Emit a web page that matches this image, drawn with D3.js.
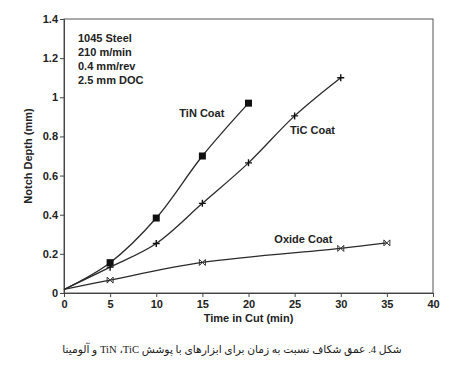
<!DOCTYPE html>
<html>
<head>
<meta charset="utf-8">
<script src="https://cdn.jsdelivr.net/npm/d3@7"></script>
<style>
  body { margin: 0; background: #fff; }
  text { font-family: "Liberation Sans", Arial, sans-serif; fill: #222; }
</style>
</head>
<body>
<script>
const xTicks = [0, 5, 10, 15, 20, 25, 30, 35, 40];
const yTicks = [0, 0.2, 0.4, 0.6, 0.8, 1, 1.2, 1.4];

const tinTime = [0, 5, 10, 15, 20];
const tinDepth = [0.018, 0.155, 0.383, 0.70, 0.97];

const ticTime = [0, 5, 10, 15, 20, 25, 30];
const ticDepth = [0.018, 0.132, 0.253, 0.458, 0.665, 0.905, 1.10];

const oxideTime = [0, 5, 15, 30, 35];
const oxideDepth = [0.018, 0.066, 0.156, 0.228, 0.256];

const conditions = ['1045 Steel', '210 m/min', '0.4 mm/rev', '2.5 mm DOC'];
const caption = 'شکل 4. عمق شکاف نسبت به زمان برای ابزارهای با پوشش TiC\u200F، TiN و آلومینا';

const margin = { top: 19, right: 17, bottom: 76, left: 64 },
      width = 450 - margin.left - margin.right,
      height = 369 - margin.top - margin.bottom;

const x = d3.scaleLinear().domain([0, 40]).range([0, width]);
const y = d3.scaleLinear().domain([0, 1.4]).range([height, 0]);

const svg = d3.select('body').append('svg')
    .attr('width', 450).attr('height', 369);
const g = svg.append('g').attr('transform', `translate(${margin.left},${margin.top})`);

// frame
g.append('rect').attr('width', width).attr('height', height)
    .attr('fill', 'none').attr('stroke', '#555').attr('stroke-width', 1);

const xAxis = d3.axisBottom(x).tickValues(xTicks).tickSize(4).tickPadding(3).tickFormat(d3.format('d'));
const yAxis = d3.axisLeft(y).tickValues(yTicks).tickSize(4).tickPadding(2).tickFormat(d => d === 0 || d === 1 ? d : d3.format('.1f')(d));

const gx = g.append('g').attr('transform', `translate(0,${height})`).call(xAxis);
const gy = g.append('g').call(yAxis);
[gx, gy].forEach(a => {
    a.select('.domain').attr('stroke', '#444');
    a.selectAll('.tick line').attr('stroke', '#444');
    a.selectAll('.tick text').attr('font-size', 11).attr('font-weight', 'bold')
        .attr('fill', '#222').style('font-family', '"Liberation Sans", Arial, sans-serif');
});

const line = d3.line().x(d => x(d[0])).y(d => y(d[1])).curve(d3.curveCatmullRom.alpha(0.5));
const series = [
    { t: tinTime, v: tinDepth, mark: 'square' },
    { t: ticTime, v: ticDepth, mark: 'plus' },
    { t: oxideTime, v: oxideDepth, mark: 'cross' }
];

series.forEach(s => {
    const pts = s.t.map((t, i) => [t, s.v[i]]);
    g.append('path').attr('d', line(pts)).attr('fill', 'none')
        .attr('stroke', '#2a2a2a').attr('stroke-width', 1.3);
    pts.slice(1).forEach(p => {
        const cx = x(p[0]), cy = y(p[1]);
        if (s.mark === 'square') {
            g.append('rect').attr('x', cx - 3.5).attr('y', cy - 3.5)
                .attr('width', 7).attr('height', 7).attr('fill', '#111');
        } else if (s.mark === 'plus') {
            g.append('path').attr('d', `M${cx - 3.5},${cy}H${cx + 3.5}M${cx},${cy - 3.5}V${cy + 3.5}`)
                .attr('stroke', '#111').attr('stroke-width', 1.4);
        } else {
            g.append('path').attr('d', `M${cx - 3},${cy - 3}L${cx + 3},${cy + 3}M${cx - 3},${cy + 3}L${cx + 3},${cy - 3}M${cx - 3},${cy - 3}V${cy + 3}M${cx + 3},${cy - 3}V${cy + 3}`)
                .attr('stroke', '#333').attr('stroke-width', 1);
        }
    });
});

// conditions box text
g.selectAll('.cond').data(conditions).enter().append('text')
    .attr('x', 14).attr('y', (d, i) => 23 + i * 14)
    .attr('font-size', 11).attr('font-weight', 'bold').text(d => d);

// series labels
const labels = [
    { text: 'TiN Coat', t: 12.5, v: 0.90 },
    { text: 'TiC Coat', t: 24.5, v: 0.81 },
    { text: 'Oxide Coat', t: 22.8, v: 0.255 }
];
g.selectAll('.lab').data(labels).enter().append('text')
    .attr('x', d => x(d.t)).attr('y', d => y(d.v))
    .attr('font-size', 11).attr('font-weight', 'bold').text(d => d.text);

// axis titles
g.append('text').attr('x', x(20)).attr('y', height + 29)
    .attr('text-anchor', 'middle').attr('font-size', 11).attr('font-weight', 'bold')
    .text('Time in Cut (min)');
g.append('text').attr('transform', `translate(-32,${y(0.7)}) rotate(-90)`)
    .attr('text-anchor', 'middle').attr('font-size', 11).attr('font-weight', 'bold')
    .text('Notch Depth (mm)');

// caption
svg.append('text').attr('x', 232).attr('y', 353)
    .attr('text-anchor', 'middle').attr('direction', 'rtl')
    .attr('font-size', 10.7)
    .style('font-family', '"Liberation Serif", "DejaVu Sans", serif')
    .text(caption);
</script>
</body>
</html>
